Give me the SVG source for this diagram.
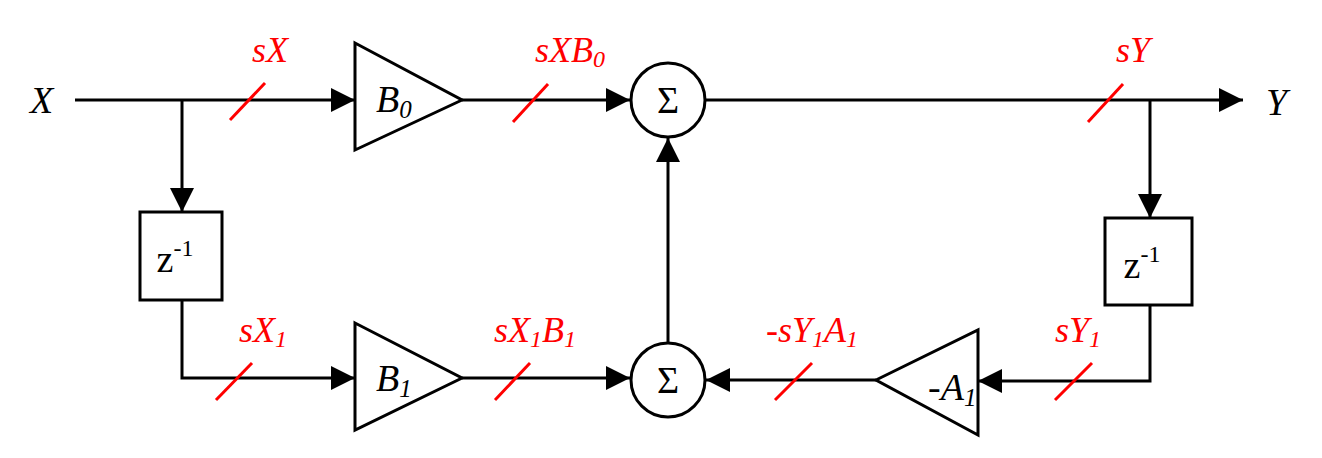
<svg xmlns="http://www.w3.org/2000/svg" width="1322" height="458" viewBox="0 0 1322 458">
<style>
.ln{stroke:#000;stroke-width:3;fill:none}
.sh{stroke:#000;stroke-width:3;fill:#fff}
.sl{stroke:#f00;stroke-width:3}
text{font-family:"Liberation Serif","Times New Roman","DejaVu Serif",serif}
.t{font-style:italic;font-size:38px;fill:#000}
.r{font-style:italic;font-size:36px;fill:#f00;text-anchor:middle}
.n{font-size:38px;fill:#000;text-anchor:middle}
</style>
<defs><marker id="ah" viewBox="0 0 24 24" refX="24" refY="12" markerWidth="24" markerHeight="24" markerUnits="userSpaceOnUse" orient="auto"><path d="M0,0L24,12L0,24z" fill="#000"/></marker></defs>
<g id="connectors">
<path class="ln" d="M75,100H355" marker-end="url(#ah)"/>
<path class="ln" d="M182,100V212" marker-end="url(#ah)"/>
<path class="ln" d="M182,300V378H355" marker-end="url(#ah)"/>
<path class="ln" d="M462,100H630" marker-end="url(#ah)"/>
<path class="ln" d="M462,378H630" marker-end="url(#ah)"/>
<path class="ln" d="M706,100H1243" marker-end="url(#ah)"/>
<path class="ln" d="M1150,100V218" marker-end="url(#ah)"/>
<path class="ln" d="M1150,305V381H978" marker-end="url(#ah)"/>
<path class="ln" d="M876,380H706" marker-end="url(#ah)"/>
<path class="ln" d="M668,342V138" marker-end="url(#ah)"/>
<line class="sl" x1="230" y1="120" x2="265" y2="83"/>
<line class="sl" x1="513" y1="122" x2="548" y2="84"/>
<line class="sl" x1="1088" y1="122" x2="1123" y2="84"/>
<line class="sl" x1="216" y1="400" x2="252" y2="363"/>
<line class="sl" x1="495" y1="400" x2="530" y2="363"/>
<line class="sl" x1="775" y1="400" x2="812" y2="363"/>
<line class="sl" x1="1055" y1="400" x2="1092" y2="363"/>
<text class="r" x="270" y="62">sX</text>
<text class="r" x="570" y="62">sXB<tspan font-size="24" dy="5">0</tspan></text>
<text class="r" x="1133" y="62">sY</text>
<text class="r" x="263" y="342">sX<tspan font-size="24" dy="5">1</tspan></text>
<text class="r" x="535" y="342">sX<tspan font-size="24" dy="5">1</tspan><tspan dy="-5">B</tspan><tspan font-size="24" dy="5">1</tspan></text>
<text class="r" x="812" y="342">-sY<tspan font-size="24" dy="5">1</tspan><tspan dy="-5">A</tspan><tspan font-size="24" dy="5">1</tspan></text>
<text class="r" x="1078" y="342">sY<tspan font-size="24" dy="5">1</tspan></text>
</g>
<g id="X"><text class="t" x="30" y="113">X</text></g>
<g id="Y"><text class="t" x="1266" y="115">Y</text></g>
<g id="B0"><path class="sh" d="M355,43L462,100L355,150z"/><text class="t" x="376" y="112">B<tspan font-size="25" dy="6">0</tspan></text></g>
<g id="B1"><path class="sh" d="M355,323L462,378L355,430z"/><text class="t" x="376" y="391">B<tspan font-size="25" dy="6">1</tspan></text></g>
<g id="A1"><path class="sh" d="M876,380L978,330L978,435z"/><text class="t" x="928" y="400">-A<tspan font-size="25" dy="6">1</tspan></text></g>
<g id="sum0"><circle class="sh" cx="668" cy="100" r="37"/><text class="n" x="668" y="113">Σ</text></g>
<g id="sum1"><circle class="sh" cx="668" cy="380" r="37"/><text class="n" x="668" y="393">Σ</text></g>
<g id="zx"><rect class="sh" x="140" y="212" width="82" height="88"/><text class="n" x="175" y="272">z<tspan font-size="24" dy="-16">-1</tspan></text></g>
<g id="zy"><rect class="sh" x="1105" y="218" width="87" height="87"/><text class="n" x="1142" y="278">z<tspan font-size="24" dy="-16">-1</tspan></text></g>
</svg>
